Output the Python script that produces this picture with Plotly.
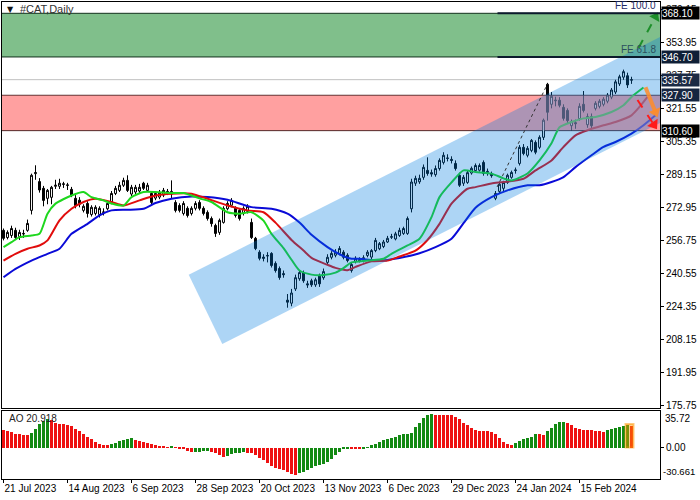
import plotly.graph_objects as go

# ---------------- data ----------------
DATE_LABELS = ["21 Jul 2023", "14 Aug 2023", "6 Sep 2023", "28 Sep 2023", "20 Oct 2023",
               "13 Nov 2023", "6 Dec 2023", "29 Dec 2023", "24 Jan 2024", "15 Feb 2024"]
LABEL_EVERY = 16  # one date label every 16 daily bars

OPEN = [261.7, 258.2, 259.2, 261.7, 258.7, 260.2, 261.7, 271.5, 289.5, 285.6,
        282.3, 277.4, 277.9, 283.3, 283.3, 284.5, 284.0, 281.8, 277.4, 276.5,
        271.5, 274.9, 269.5, 270.0, 269.5, 270.5, 272.3, 275.4, 279.8, 281.3,
        283.8, 286.2, 279.5, 280.5, 281.0, 284.8, 281.3, 279.8, 277.5, 278.0,
        279.0, 280.8, 279.5, 275.4, 273.9, 270.0, 272.5, 270.0, 272.5, 275.4,
        272.5, 270.5, 267.5, 264.1, 260.7, 265.6, 272.3, 274.0, 272.5, 271.5,
        270.0, 271.0, 265.6, 257.8, 251.0, 248.6, 249.4, 250.4, 245.5, 243.0,
        240.5, 227.5, 226.0, 233.0, 238.0, 241.0, 235.5, 237.0, 235.0, 239.6,
        238.5, 246.0, 248.5, 249.5, 250.4, 251.0, 249.5, 242.0, 246.5, 246.8,
        247.0, 249.4, 248.6, 251.8, 252.7, 253.8, 256.0, 258.3, 257.5, 259.2,
        260.2, 260.2, 272.3, 284.8, 285.5, 287.7, 291.1, 290.0, 289.0, 292.0,
        295.0, 297.2, 296.5, 294.5, 288.7, 284.8, 285.2, 289.8, 291.0, 291.2,
        295.0, 290.1, 289.5, 277.4, 280.8, 282.3, 285.2, 287.7, 291.0, 294.5,
        302.4, 298.5, 300.9, 304.8, 302.4, 307.3, 333.3, 323.5, 325.2, 325.5,
        322.0, 320.5, 313.0, 314.5, 316.5, 323.5, 313.5, 317.5, 321.5, 322.5,
        323.5, 325.0, 327.0, 329.5, 333.5, 336.8, 337.5, 335.3]
HIGH = [262.6, 261.7, 264.0, 263.0, 262.0, 262.0, 267.0, 289.5, 293.6, 287.3,
        283.5, 282.0, 283.5, 286.5, 287.0, 285.5, 285.0, 283.0, 279.0, 278.0,
        274.5, 276.0, 274.0, 274.0, 273.5, 272.5, 276.0, 281.0, 283.5, 285.5,
        287.5, 288.7, 284.0, 284.0, 284.5, 285.5, 285.0, 281.0, 280.5, 281.5,
        282.5, 282.0, 286.2, 276.5, 275.0, 276.0, 273.5, 273.5, 276.0, 276.5,
        273.5, 271.5, 268.5, 265.0, 267.5, 273.5, 276.0, 277.5, 273.5, 272.5,
        273.5, 274.5, 267.5, 258.5, 252.0, 250.0, 251.0, 251.0, 246.5, 244.0,
        242.0, 230.5, 233.0, 240.0, 242.0, 242.0, 237.0, 238.0, 238.5, 240.5,
        243.0, 250.0, 251.5, 252.5, 254.0, 252.0, 250.5, 246.0, 249.0, 248.5,
        249.5, 252.0, 252.5, 258.0, 256.0, 257.0, 259.0, 260.0, 261.0, 263.0,
        263.5, 268.5, 287.0, 288.5, 289.0, 294.0, 297.5, 291.5, 293.5, 297.0,
        300.0, 299.0, 298.0, 296.0, 290.0, 288.8, 291.0, 293.0, 294.5, 294.5,
        296.0, 292.0, 290.5, 281.0, 285.5, 286.0, 289.5, 291.0, 292.5, 303.5,
        304.0, 303.0, 306.5, 305.8, 308.3, 316.5, 334.0, 329.5, 327.2, 327.0,
        323.5, 321.5, 316.0, 316.0, 324.0, 330.0, 319.0, 319.0, 325.0, 326.0,
        327.0, 329.0, 331.5, 335.5, 338.0, 340.5, 339.0, 337.0]
LOW = [256.8, 257.3, 258.0, 257.0, 257.0, 258.0, 261.0, 269.5, 286.5, 280.2,
       273.5, 274.5, 274.5, 282.0, 282.0, 282.5, 281.5, 278.0, 272.5, 273.0,
       270.5, 268.0, 268.5, 269.0, 268.0, 269.0, 271.5, 274.5, 279.0, 280.5,
       283.0, 280.5, 278.5, 279.5, 280.0, 281.5, 280.5, 274.5, 276.5, 277.0,
       278.0, 279.0, 277.5, 270.5, 270.5, 269.0, 268.0, 269.0, 271.5, 271.5,
       269.0, 266.5, 263.5, 258.5, 259.5, 265.0, 271.5, 273.0, 268.0, 266.5,
       269.0, 270.0, 257.5, 252.0, 247.0, 246.5, 246.0, 243.5, 241.0, 237.5,
       238.5, 223.8, 224.5, 232.0, 237.0, 236.0, 233.5, 234.0, 234.0, 234.0,
       237.5, 245.0, 247.5, 248.5, 249.5, 247.5, 246.0, 241.0, 245.5, 246.0,
       246.0, 248.5, 247.5, 251.0, 252.0, 253.0, 255.5, 257.5, 256.8, 258.5,
       259.5, 259.5, 270.5, 283.5, 284.5, 286.5, 288.5, 288.0, 288.0, 291.0,
       294.0, 295.5, 294.5, 291.0, 283.0, 283.5, 284.5, 289.0, 290.0, 290.5,
       288.5, 288.5, 287.5, 276.5, 279.5, 281.0, 284.5, 287.0, 289.5, 293.5,
       298.5, 297.5, 300.0, 299.0, 301.5, 306.0, 315.5, 321.5, 322.5, 322.0,
       315.5, 314.0, 310.5, 311.5, 315.5, 319.5, 312.0, 311.5, 320.5, 321.5,
       322.5, 324.0, 326.0, 328.5, 332.5, 335.5, 331.5, 333.5]
CLOSE = [257.8, 260.7, 262.6, 258.2, 260.7, 260.0, 265.1, 288.7, 290.0, 281.5,
         276.4, 281.3, 282.8, 283.8, 284.8, 284.3, 283.8, 278.8, 273.9, 274.5,
         273.5, 270.0, 273.0, 273.0, 272.5, 270.7, 274.9, 279.8, 282.3, 283.8,
         286.2, 281.3, 282.8, 282.8, 282.8, 282.3, 283.8, 275.4, 279.8, 280.3,
         281.3, 279.8, 280.8, 271.5, 271.5, 274.9, 269.0, 272.5, 274.9, 272.5,
         270.0, 267.5, 265.0, 260.2, 266.6, 272.5, 274.9, 276.4, 269.0, 267.5,
         272.5, 273.5, 258.2, 252.8, 248.0, 248.0, 249.2, 244.5, 242.0, 238.6,
         240.0, 226.5, 231.0, 238.5, 241.0, 237.0, 235.0, 235.0, 237.5, 235.5,
         241.5, 248.5, 250.4, 251.0, 252.8, 248.5, 246.9, 245.0, 248.0, 247.3,
         248.3, 251.0, 251.8, 256.8, 255.2, 256.0, 257.8, 258.6, 260.0, 261.7,
         262.6, 267.5, 285.4, 287.2, 287.2, 292.6, 289.6, 289.3, 292.0, 296.0,
         298.5, 297.0, 296.0, 292.0, 283.8, 287.7, 290.0, 292.1, 293.5, 293.5,
         289.6, 290.6, 288.5, 279.8, 284.3, 285.2, 288.7, 290.1, 291.3, 302.4,
         299.4, 301.9, 305.8, 300.0, 307.3, 315.7, 319.6, 327.4, 325.5, 323.0,
         316.6, 315.5, 315.0, 314.0, 322.5, 320.5, 317.5, 313.0, 324.0, 325.0,
         326.0, 328.0, 330.5, 334.5, 337.0, 339.5, 333.0, 335.57]

# Alligator lines (bar index, price); lines run past the last bar (shifted)
JAW_IDX = [0, 3, 7, 11, 14, 17, 21, 24, 27, 31, 35, 38, 42, 47, 51, 56, 62, 67, 71, 74, 77, 81, 84,
           87, 89, 94, 99, 104, 108, 112, 115, 118, 122, 126, 131, 134, 137, 140, 143, 147, 150,
           153, 157, 160, 163]
JAW_VAL = [238.7, 242.8, 246.9, 250.2, 252.7, 260.0, 264.9, 269.0, 271.5, 271.8, 272.3, 275.1,
           277.2, 278.3, 278.0, 276.7, 273.1, 272.3, 269.9, 265.5, 259.5, 253.5, 250.0, 247.8,
           247.8, 246.9, 248.2, 250.5, 253.5, 257.6, 265.2, 272.8, 278.0, 281.3, 283.8, 283.8,
           285.4, 287.8, 292.7, 298.5, 302.6, 305.0, 309.1, 313.2, 318.1]
TEETH_IDX = [0, 3, 6, 9, 11, 14, 17, 20, 23, 27, 30, 34, 38, 42, 47, 51, 56, 61, 65, 68, 72, 75,
             77, 81, 83, 86, 88, 92, 96, 99, 103, 106, 109, 112, 116, 118, 122, 125, 130, 133, 137,
             140, 143, 146, 150, 153, 157, 159, 161]
TEETH_VAL = [246.9, 250.2, 252.7, 254.3, 256.8, 266.6, 272.3, 275.6, 277.2, 275.6, 273.9, 276.4,
             278.8, 279.7, 279.7, 277.2, 273.9, 271.5, 270.6, 265.5, 257.0, 251.8, 248.2, 244.8,
             243.3, 242.2, 243.8, 246.5, 246.9, 248.9, 251.8, 257.0, 264.9, 274.8, 282.1, 282.9,
             284.7, 285.4, 287.0, 291.1, 296.0, 302.6, 308.3, 310.8, 313.2, 314.8, 318.1, 322.2,
             327.1]
LIPS_IDX = [0, 2, 4, 7, 9, 11, 13, 17, 20, 22, 25, 27, 30, 32, 35, 38, 42, 45, 49, 52, 56, 59, 62,
            65, 67, 70, 72, 74, 77, 80, 83, 85, 87, 91, 95, 97, 101, 104, 107, 109, 112, 115, 118,
            122, 125, 127, 131, 134, 137, 139, 142, 145, 148, 152, 155, 157, 160]
LIPS_VAL = [253.5, 255.9, 258.4, 259.2, 260.0, 269.9, 274.8, 278.8, 280.5, 278.0, 276.4, 274.9,
            273.9, 278.0, 280.5, 280.5, 280.0, 280.0, 277.4, 275.6, 270.6, 269.9, 270.6, 266.5,
            260.0, 253.0, 247.3, 242.0, 240.0, 239.8, 241.0, 243.2, 246.0, 246.9, 247.8, 250.2,
            254.3, 257.6, 268.2, 278.0, 285.2, 291.1, 290.3, 289.5, 287.2, 286.2, 289.6, 296.0,
            304.4, 312.2, 314.8, 316.6, 317.3, 319.7, 323.0, 327.1, 331.7]

AO = [16.9, 16.2, 14.9, 13.6, 13.0, 12.3, 12.1, 14.6, 18.5, 22.7,
      25.6, 27.5, 26.9, 23.6, 23.3, 22.7, 22.0, 21.1, 18.5, 16.2,
      13.6, 10.4, 8.1, 5.5, 3.9, 2.6, 2.5, 3.9, 4.9, 6.2,
      7.4, 8.4, 9.1, 7.4, 6.5, 5.5, 4.6, 3.9, 3.0, 1.9,
      1.0, 0.3, 1.0, 0.7, -0.3, -1.6, -3.2, -4.6, -4.2, -3.9,
      -3.5, -3.4, -4.2, -5.5, -7.1, -8.8, -7.8, -6.2, -5.5, -4.9,
      -4.2, -4.9, -5.5, -6.8, -9.7, -12.3, -15.2, -17.8, -19.8, -21.1,
      -22.0, -23.6, -25.5, -26.0, -25.0, -23.6, -21.7, -19.4, -17.8, -17.1,
      -16.2, -13.9, -10.7, -7.4, -4.2, -1.6, -0.3, -0.5, -0.8, -1.0,
      -0.9, 0.5, 2.3, 3.9, 5.8, 7.4, 8.8, 9.7, 10.7, 12.0,
      13.0, 13.6, 14.6, 19.7, 24.3, 29.2, 32.1, 32.4, 32.3, 32.2,
      32.1, 31.9, 31.4, 29.8, 27.5, 24.3, 21.7, 18.8, 17.2, 16.5,
      16.4, 16.2, 15.2, 13.6, 9.7, 5.8, 3.9, 2.6, 4.2, 6.5,
      8.8, 9.7, 10.7, 13.0, 12.9, 12.8, 16.2, 19.4, 22.7, 25.3,
      25.4, 23.6, 21.7, 19.4, 18.5, 17.2, 16.9, 16.8, 16.7, 15.9,
      15.2, 17.2, 18.5, 19.2, 20.1, 21.1, 21.7, 20.918]

PRICE_TICKS = [175.75, 191.95, 208.15, 224.35, 240.55, 256.75, 272.95, 289.15, 305.35,
               321.55, 337.75, 353.95, 370.15]
AO_MAX, AO_MIN = 35.72, -30.661

GREEN_ZONE = (346.70, 368.10)
RED_ZONE = (310.60, 327.90)
BID = 335.57
FE_LEVELS = [("FE 100.0", 368.10), ("FE 61.8", 346.70)]
FE_START = 123.5
CHANNEL = [(46.3, 239.9), (54.7, 206.0), (187.6, 337.6), (179.25, 371.5)]
DOTTED = [(123.4, 283.0), (136.0, 333.5)]
ARROWS = {  # (x0, y0, x1, y1) in bar / price units
    "green": (158.75, 351.1, 163.0, 366.3),
    "orange": (160.5, 331.9, 163.0, 319.6),
    "red": (158.5, 325.6, 162.6, 313.5),
}
PRICE_BOXES = [(368.10, "#000000"), (346.70, "#0f1f36"), (335.57, "#1b2a44"),
               (327.90, "#162640"), (310.60, "#000000")]

# ---------------- figure ----------------
FONT = dict(family="Liberation Sans, Arial, sans-serif", size=10, color="black")
n = len(CLOSE)
bars = list(range(n))
XR = [-0.375, 164.125]

fig = go.Figure()

for idx, val, col in [(JAW_IDX, JAW_VAL, "rgb(10,10,215)"),
                      (TEETH_IDX, TEETH_VAL, "rgb(225,12,12)"),
                      (LIPS_IDX, LIPS_VAL, "rgb(30,215,30)")]:
    fig.add_trace(go.Scatter(x=idx, y=val, mode="lines",
                             line=dict(color=col, width=2, shape="spline", smoothing=0.6),
                             hoverinfo="skip", showlegend=False, xaxis="x", yaxis="y"))

# translucent overlays (tint the indicator lines like the terminal does)
fig.add_trace(go.Scatter(x=[-1, 170, 170, -1, -1],
                         y=[RED_ZONE[0], RED_ZONE[0], RED_ZONE[1], RED_ZONE[1], RED_ZONE[0]],
                         fill="toself", fillcolor="rgba(255,160,160,0.45)", mode="lines",
                         line=dict(width=0), hoverinfo="skip", showlegend=False))
cx = [p[0] for p in CHANNEL] + [CHANNEL[0][0]]
cy = [p[1] for p in CHANNEL] + [CHANNEL[0][1]]
fig.add_trace(go.Scatter(x=cx, y=cy, fill="toself", fillcolor="rgba(0,124,224,0.32)",
                         mode="lines", line=dict(width=0), hoverinfo="skip", showlegend=False))

fig.add_trace(go.Candlestick(x=bars, open=OPEN, high=HIGH, low=LOW, close=CLOSE,
                             increasing=dict(line=dict(color="black", width=1), fillcolor="white"),
                             decreasing=dict(line=dict(color="black", width=1), fillcolor="black"),
                             whiskerwidth=0, hoverinfo="skip", showlegend=False,
                             xaxis="x", yaxis="y"))

ao_colors = ["#ee1111" if i == 0 or AO[i] <= AO[i - 1] else "#138a13" for i in range(n)]
fig.add_trace(go.Bar(x=bars, y=AO, marker=dict(color=ao_colors, line=dict(width=0)), width=0.75,
                     hoverinfo="skip", showlegend=False, xaxis="x2", yaxis="y2"))

# arrow heads
for key, col, ang, sz in [("green", "#1d8f2a", 29, 10), ("orange", "rgba(255,140,40,0.9)", 158, 11),
                          ("red", "#ff1a1a", 146, 11)]:
    x0, y0, x1, y1 = ARROWS[key]
    fig.add_trace(go.Scatter(x=[x1], y=[y1], mode="markers", cliponaxis=False,
                             marker=dict(symbol="triangle-up", size=sz, angle=ang, color=col),
                             hoverinfo="skip", showlegend=False))

shapes = [
    dict(type="rect", xref="paper", yref="y", x0=0, x1=1, y0=GREEN_ZONE[0], y1=GREEN_ZONE[1],
         fillcolor="#80bf8b", line=dict(width=0), layer="below"),
    dict(type="rect", xref="paper", yref="y", x0=0, x1=1, y0=RED_ZONE[0], y1=RED_ZONE[1],
         fillcolor="#ffa0a0", line=dict(width=0), layer="below"),
    dict(type="line", xref="paper", yref="y", x0=0, x1=1, y0=BID, y1=BID,
         line=dict(color="#c0c0c0", width=1), layer="below"),
]
for lv, col in [(GREEN_ZONE[0], "#12301c"), (GREEN_ZONE[1], "#12301c"),
                (RED_ZONE[0], "#2a0808"), (RED_ZONE[1], "#2a0808")]:
    shapes.append(dict(type="line", xref="paper", yref="y", x0=0, x1=1, y0=lv, y1=lv,
                       line=dict(color=col, width=1), layer="below"))
for _, lv in FE_LEVELS:
    shapes.append(dict(type="line", xref="x", yref="y", x0=FE_START, x1=XR[1], y0=lv, y1=lv,
                       line=dict(color="#0c1a2c", width=2), layer="above"))
shapes.append(dict(type="line", xref="x", yref="y", x0=DOTTED[0][0], y0=DOTTED[0][1],
                   x1=DOTTED[1][0], y1=DOTTED[1][1], line=dict(color="#333333", width=1, dash="dot"),
                   layer="above"))
for key, col, w, dash in [("green", "#1d8f2a", 2, "dash"), ("orange", "rgba(255,140,40,0.85)", 4, "solid"),
                          ("red", "#ff1a1a", 2, "dash")]:
    x0, y0, x1, y1 = ARROWS[key]
    shapes.append(dict(type="line", xref="x", yref="y", x0=x0, y0=y0, x1=x1, y1=y1,
                       line=dict(color=col, width=w, dash=dash), layer="above"))
shapes.append(dict(type="rect", xref="x2", yref="y2", x0=155.5, x1=157.5, y0=0, y1=AO[-2] + 1,
                   fillcolor="rgba(255,150,0,0.45)", line=dict(color="rgba(255,150,0,0.5)", width=2),
                   layer="above"))

annotations = [
    dict(xref="paper", yref="paper", x=0.0046, y=0.985, xanchor="left", yanchor="middle",
         text="▼", showarrow=False, font=dict(family="DejaVu Sans", size=8, color="#111")),
    dict(xref="paper", yref="paper", x=0.0245, y=0.985, xanchor="left", yanchor="middle",
         text="#CAT,Daily", showarrow=False, font=dict(FONT, size=11, color="#333")),
    dict(xref="paper", yref="paper", x=0.0076, y=0.126, xanchor="left", yanchor="middle",
         text=f"AO {AO[-1]:.3f}", showarrow=False, font=dict(FONT, color="#222")),
    dict(xref="paper", yref="y2", x=1, xshift=3, y=AO_MAX, xanchor="left", yanchor="top",
         text=f"{AO_MAX:.2f}", showarrow=False, font=FONT),
    dict(xref="paper", yref="y2", x=1, xshift=1, y=AO_MIN, xanchor="left", yanchor="bottom",
         text=f"{AO_MIN:.3f}", showarrow=False, font=dict(FONT, size=9.5)),
]
for txt, lv in FE_LEVELS:
    annotations.append(dict(xref="paper", yref="y", x=1, xshift=-2, y=lv, xanchor="right",
                            yanchor="bottom", text=txt, showarrow=False,
                            font=dict(FONT, color="#1e2a66" if lv == GREEN_ZONE[1] else "#2b4f5e")))
for val, col in PRICE_BOXES:
    annotations.append(dict(xref="paper", yref="y", x=1, xshift=1, y=val, xanchor="left",
                            yanchor="middle", text=f"{val:.2f}", showarrow=False, align="left",
                            bgcolor=col, width=37, height=12, borderpad=0,
                            font=dict(FONT, color="white")))

axis_common = dict(showline=True, mirror=True, linecolor="black", linewidth=1, showgrid=False,
                   zeroline=False, automargin=False)
fig.update_layout(
    width=700, height=500, margin=dict(l=2, r=40, t=2, b=21, autoexpand=False),
    paper_bgcolor="white", plot_bgcolor="white", showlegend=False, bargap=0,
    shapes=shapes, annotations=annotations,
    xaxis=dict(axis_common, domain=[0, 1], range=XR, anchor="y", showticklabels=False, ticks="",
               rangeslider=dict(visible=False)),
    yaxis=dict(axis_common, domain=[0.1488, 1], range=[174.62, 373.64], side="right", anchor="x",
               tickvals=PRICE_TICKS, ticktext=[f"{v:.2f}" for v in PRICE_TICKS],
               ticks="outside", ticklen=3, tickcolor="black", tickfont=FONT),
    xaxis2=dict(axis_common, domain=[0, 1], range=XR, anchor="y2", matches="x",
                tickvals=[k * LABEL_EVERY for k in range(len(DATE_LABELS))], ticktext=DATE_LABELS,
                ticks="outside", ticklen=3, tickcolor="black", ticklabelposition="outside right",
                tickangle=0, tickfont=FONT, rangeslider=dict(visible=False)),
    yaxis2=dict(axis_common, domain=[0, 0.1432], range=[AO_MIN, AO_MAX], side="right", anchor="x2",
                tickvals=[0], ticktext=["0.00"], ticks="outside", ticklen=3, tickcolor="black",
                tickfont=FONT),
)

fig.write_html("out.html", config={"displayModeBar": False},
               post_script="document.body.style.margin='0px';")
